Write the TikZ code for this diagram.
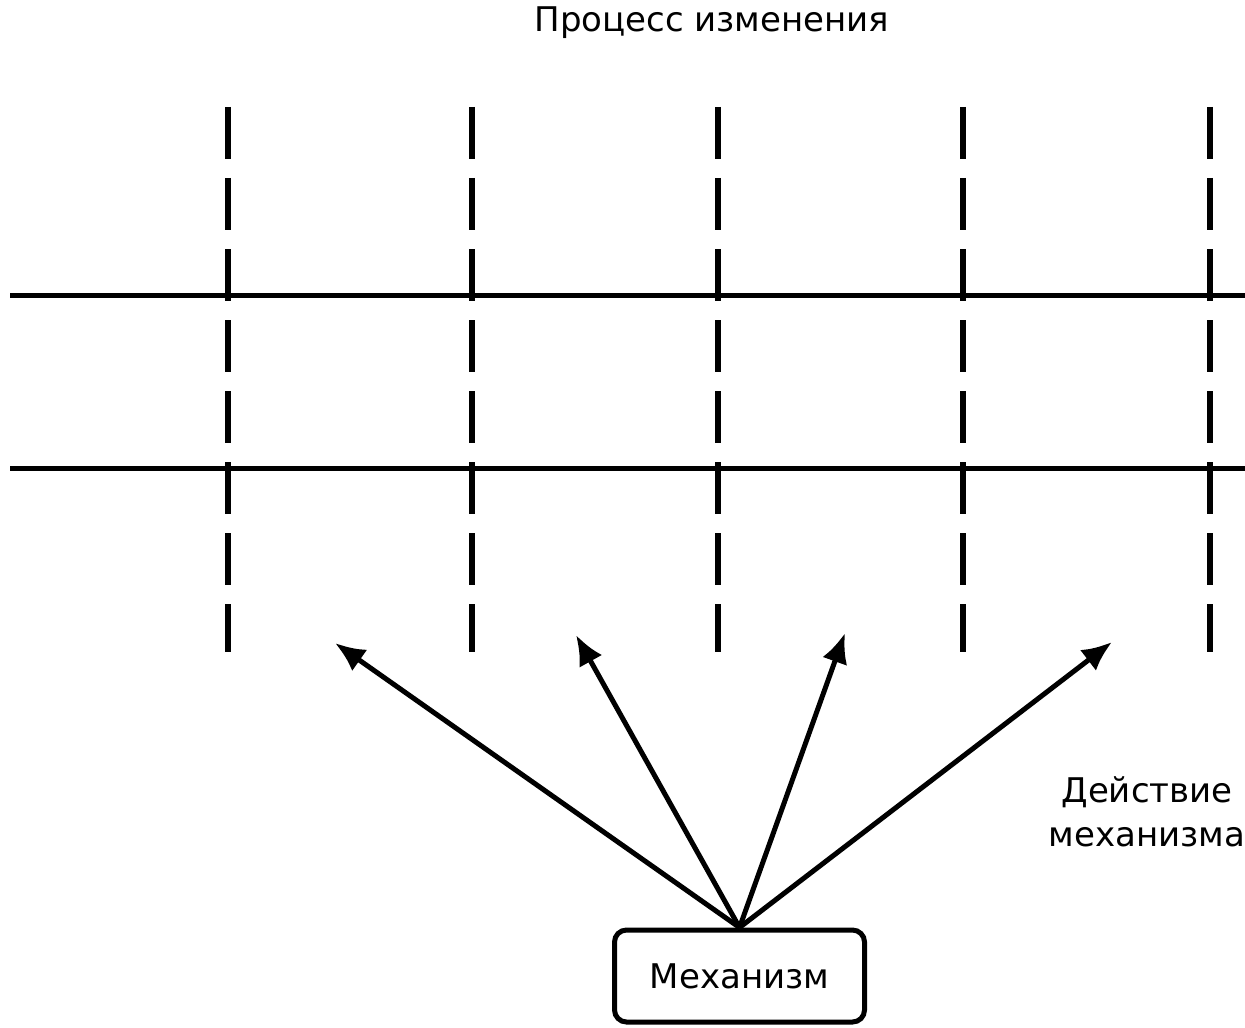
\documentclass[tikz,border=0pt]{standalone}
\usepackage{fontspec}
\setmainfont{DejaVu Sans}
\usetikzlibrary{arrows.meta}
\begin{document}
\begin{tikzpicture}[x=0.5pt,y=-0.5pt,
  hline/.style={line width=2.5pt},
  vline/.style={line width=3pt, dash pattern=on 26pt off 9.5pt},
  arr/.style={line width=2.5pt,-{Latex[length=15pt,width=13pt]}},
  lbl/.style={font=\fontsize{17}{22}\selectfont, inner sep=0pt},
  mech/.style={draw, line width=2.5pt, rounded corners=6pt, minimum width=125pt, minimum height=46pt, inner sep=0pt, font=\fontsize{17}{22}\selectfont}]
\useasboundingbox (0,0) rectangle (1245,1027);
% title
\node[lbl, anchor=base] (title) at (712,32) {Процесс изменения};
% horizontal lines
\draw[hline] (10,295) -- (1260,295);
\draw[hline] (10,468) -- (1260,468);
% vertical dashed lines
\foreach \i/\x in {1/228,2/472,3/718,4/963,5/1210}{
  \coordinate (t\i) at (\x,107);
  \coordinate (b\i) at (\x,652);
  \draw[vline] (t\i) -- (b\i);
}
% mechanism box
\node[mech] (mech) at (739.5,976) {Механизм};
% arrow tips
\coordinate (a1) at (335,643);
\coordinate (a2) at (576,635);
\coordinate (a3) at (845,633);
\coordinate (a4) at (1112,642);
\foreach \i in {1,...,4}{
  \draw[arr] (mech.north) -- (a\i);
}
% action label
\node[lbl, align=center, anchor=center] (act) at (1147,812) {Действие\\механизма};
\end{tikzpicture}
\end{document}
